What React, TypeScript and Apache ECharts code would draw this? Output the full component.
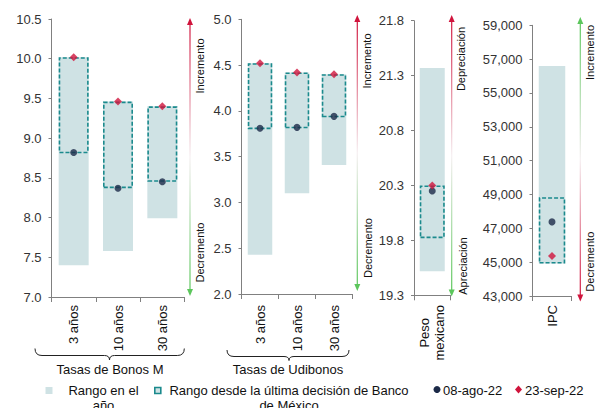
import React, { useEffect, useRef } from "react";
import * as echarts from "echarts";

// ---------- DATA ----------
const bonosCats = ["3 años", "10 años", "30 años"];
const bonosYearMin = [7.4, 7.58, 7.99];
const bonosYearMax = [10.02, 9.46, 9.4];
const bonosBoxMin = [8.81, 8.37, 8.45];
const bonosBoxMax = [10.02, 9.46, 9.4];
const bonosAug = [8.82, 8.37, 8.45];
const bonosSep = [10.02, 9.46, 9.4];

const udiCats = ["3 años", "10 años", "30 años"];
const udiYearMin = [2.43, 3.1, 3.41];
const udiYearMax = [4.52, 4.42, 4.4];
const udiBoxMin = [3.8, 3.81, 3.93];
const udiBoxMax = [4.52, 4.42, 4.4];
const udiAug = [3.81, 3.82, 3.94];
const udiSep = [4.52, 4.42, 4.4];

const pesoCats = ["Peso\nmexicano"];
const pesoYearMin = [19.52];
const pesoYearMax = [21.37];
const pesoBoxMin = [19.82];
const pesoBoxMax = [20.3];
const pesoAug = [20.25];
const pesoSep = [20.3];

const ipcCats = ["IPC"];
const ipcYearMin = [44920];
const ipcYearMax = [56590];
const ipcBoxMin = [44920];
const ipcBoxMax = [48840];
const ipcAug = [47380];
const ipcSep = [45370];

const bonosTicks = [7.0, 10.5];
const udiTicks = [2.0, 5.0];
const pesoTicks = [19.3, 19.8, 20.3, 20.8, 21.3, 21.8];
const ipcTicks = [43000, 45000, 47000, 49000, 51000, 53000, 55000, 57000, 59000];

const groupLabels = ["Tasas de Bonos M", "Tasas de Udibonos"];
const arrowLabels = [
  ["Incremento", "Decremento"],
  ["Incremento", "Decremento"],
  ["Depreciación", "Apreciación"],
  ["Incremento", "Decremento"],
];
const legendLabels = [
  "Rango en el\naño",
  "Rango desde la última decisión de Banco\nde México",
  "08-ago-22",
  "23-sep-22",
];

// ---------- STYLE / LAYOUT ----------
const FONT = '"Liberation Sans", Arial, sans-serif';
const LIGHT = "#cfe2e4";
const TEAL = "#1b8a8d";
const NAVY = "#1c2a48";
const RED = "#d0143c";
const GREEN = "#5cc65c";
const AXIS = "#808080";

const grids = [
  { left: 51.5, top: 19, width: 133, height: 278 },
  { left: 241.5, top: 19.3, width: 111, height: 274.7 },
  { left: 414, top: 20.7, width: 36.5, height: 274.6 },
  { left: 532.5, top: 25.3, width: 39, height: 270.7 },
];
const barWidths = [30, 24.5, 25, 26.5];
const labelMargins = [8, 11, 37.5, 9];

const arrows = [
  { x: 190, top: 18, bottom: 296, up: RED, down: GREEN, l1: [199.5, 66], l2: [200, 252.5] },
  { x: 357.3, top: 15, bottom: 291, up: RED, down: GREEN, l1: [366.7, 61], l2: [368, 248] },
  { x: 451.7, top: 15, bottom: 296.5, up: RED, down: GREEN, l1: [461, 59], l2: [463, 266] },
  { x: 580.3, top: 17, bottom: 301.5, up: GREEN, down: RED, l1: [590, 52.5], l2: [590, 261.7] },
];

function bracePath(x0: number, x1: number, yT: number, yL: number, xc: number, yD: number) {
  return (
    `M${x0},${yT} Q${x0},${yL} ${x0 + 7},${yL} L${xc - 5},${yL} Q${xc},${yL} ${xc},${yD} ` +
    `Q${xc},${yL} ${xc + 5},${yL} L${x1 - 7},${yL} Q${x1},${yL} ${x1},${yT}`
  );
}

let registered = false;
function registerShapes() {
  if (registered) return;
  registered = true;
  echarts.graphic.registerShape(
    "braceA",
    echarts.graphic.extendPath(bracePath(35, 184.3, 348.5, 355.5, 109.5, 360), {})
  );
  echarts.graphic.registerShape(
    "braceB",
    echarts.graphic.extendPath(bracePath(227, 349, 350, 356.5, 289, 360.5), {})
  );
}

export default function App() {
  const ref = useRef<HTMLDivElement>(null);

  useEffect(() => {
    if (!ref.current) return;
    registerShapes();
    const chart = echarts.init(ref.current, undefined, { renderer: "svg" });

    const panels = [
      { cats: bonosCats, yMin: bonosYearMin, yMax: bonosYearMax, bMin: bonosBoxMin, bMax: bonosBoxMax, aug: bonosAug, sep: bonosSep },
      { cats: udiCats, yMin: udiYearMin, yMax: udiYearMax, bMin: udiBoxMin, bMax: udiBoxMax, aug: udiAug, sep: udiSep },
      { cats: pesoCats, yMin: pesoYearMin, yMax: pesoYearMax, bMin: pesoBoxMin, bMax: pesoBoxMax, aug: pesoAug, sep: pesoSep },
      { cats: ipcCats, yMin: ipcYearMin, yMax: ipcYearMax, bMin: ipcBoxMin, bMax: ipcBoxMax, aug: ipcAug, sep: ipcSep },
    ];

    const yAxes: any[] = [
      { min: bonosTicks[0], max: bonosTicks[1], interval: 0.5, fmt: (v: number) => v.toFixed(1) },
      { min: udiTicks[0], max: udiTicks[1], interval: 0.5, fmt: (v: number) => v.toFixed(1) },
      { min: pesoTicks[0], max: pesoTicks[pesoTicks.length - 1], custom: pesoTicks, fmt: (v: number) => v.toFixed(1) },
      { min: ipcTicks[0], max: ipcTicks[ipcTicks.length - 1], custom: ipcTicks, fmt: (v: number) => v.toLocaleString("en-US") },
    ].map((a, i) => {
      const ax: any = {
        type: "value",
        gridIndex: i,
        min: a.min,
        max: a.max,
        splitLine: { show: false },
        axisLine: { show: true, lineStyle: { color: AXIS, width: 1 } },
        axisTick: { show: true, length: 3, lineStyle: { color: AXIS } },
        axisLabel: { fontSize: 13, color: "#333", fontFamily: FONT, margin: 10, formatter: a.fmt },
      };
      if (a.interval) ax.interval = a.interval;
      if (a.custom) {
        ax.axisLabel.customValues = a.custom;
        ax.axisTick.customValues = a.custom;
      }
      return ax;
    });

    const xAxes = panels.map((p, i) => ({
      type: "category",
      gridIndex: i,
      data: p.cats,
      axisLine: { show: true, lineStyle: { color: AXIS, width: 1 } },
      axisTick: { show: true, length: 5, lineStyle: { color: AXIS } },
      axisLabel: {
        rotate: 90,
        fontSize: 13,
        color: "#111",
        fontFamily: FONT,
        margin: labelMargins[i],
        lineHeight: 15,
        ...(i === 2 ? { align: "center" } : {}),
      },
    }));

    const series: any[] = [];
    panels.forEach((p, i) => {
      const common = { xAxisIndex: i, yAxisIndex: i, barWidth: barWidths[i], barGap: "-100%", silent: true };
      series.push({ ...common, type: "bar", stack: "yr" + i, data: p.yMin, itemStyle: { color: "rgba(0,0,0,0)" } });
      series.push({ ...common, type: "bar", stack: "yr" + i, data: p.yMax.map((v, k) => v - p.yMin[k]), itemStyle: { color: LIGHT } });
      series.push({ ...common, type: "bar", stack: "bx" + i, data: p.bMin, itemStyle: { color: "rgba(0,0,0,0)" } });
      series.push({
        ...common,
        type: "bar",
        stack: "bx" + i,
        z: 3,
        data: p.bMax.map((v, k) => v - p.bMin[k]),
        itemStyle: { color: "rgba(0,0,0,0)", borderColor: TEAL, borderWidth: 1.6, borderType: [4, 2] },
      });
      series.push({
        type: "scatter", xAxisIndex: i, yAxisIndex: i, data: p.aug, symbol: "circle", symbolSize: 7,
        itemStyle: { color: NAVY }, z: 5, silent: true,
      });
      series.push({
        type: "scatter", xAxisIndex: i, yAxisIndex: i, data: p.sep, symbol: "diamond", symbolSize: 8,
        itemStyle: { color: RED }, z: 6, silent: true,
      });
    });

    const graphics: any[] = [];
    arrows.forEach((a, i) => {
      graphics.push({
        type: "rect",
        shape: { x: a.x - 0.6, y: a.top + 6, width: 1.2, height: a.bottom - a.top - 12 },
        style: {
          fill: new echarts.graphic.LinearGradient(0, 0, 0, 1, [
            { offset: 0, color: a.up },
            { offset: 0.5, color: "#f6f0f2" },
            { offset: 1, color: a.down },
          ]),
        },
        silent: true,
      });
      graphics.push({
        type: "polygon",
        shape: { points: [[a.x, a.top], [a.x - 3, a.top + 7], [a.x + 3, a.top + 7]] },
        style: { fill: a.up },
      });
      graphics.push({
        type: "polygon",
        shape: { points: [[a.x, a.bottom], [a.x - 3, a.bottom - 7], [a.x + 3, a.bottom - 7]] },
        style: { fill: a.down },
      });
      [a.l1, a.l2].forEach((pos, k) => {
        graphics.push({
          type: "text",
          x: pos[0],
          y: pos[1],
          rotation: Math.PI / 2,
          style: {
            text: arrowLabels[i][k],
            fontSize: 11,
            fontFamily: FONT,
            fill: "#111",
            align: "center",
            verticalAlign: "middle",
          },
        });
      });
    });

    // braces
    graphics.push({ type: "braceA", x: 0, y: 0, style: { stroke: "#222", fill: "none", lineWidth: 1 } });
    graphics.push({ type: "braceB", x: 0, y: 0, style: { stroke: "#222", fill: "none", lineWidth: 1 } });
    graphics.push({
      type: "text", x: 110, y: 369,
      style: { text: groupLabels[0], fontSize: 13, fontFamily: FONT, fill: "#111", align: "center", verticalAlign: "middle" },
    });
    graphics.push({
      type: "text", x: 288, y: 369,
      style: { text: groupLabels[1], fontSize: 13, fontFamily: FONT, fill: "#111", align: "center", verticalAlign: "middle" },
    });

    // legend
    const legTxt = { fontSize: 13, fontFamily: FONT, fill: "#111", verticalAlign: "middle", lineHeight: 15 };
    graphics.push({ type: "rect", shape: { x: 45.5, y: 387, width: 7, height: 7 }, style: { fill: LIGHT } });
    graphics.push({ type: "text", x: 103.5, y: 397.5, style: { ...legTxt, text: legendLabels[0], align: "center" } });
    graphics.push({
      type: "rect", shape: { x: 154.8, y: 387.5, width: 6, height: 6 },
      style: { fill: LIGHT, stroke: TEAL, lineWidth: 1.6 },
    });
    graphics.push({ type: "text", x: 289, y: 397.5, style: { ...legTxt, text: legendLabels[1], align: "center" } });
    graphics.push({ type: "circle", shape: { cx: 437, cy: 389.5, r: 3.5 }, style: { fill: NAVY } });
    graphics.push({ type: "text", x: 443, y: 390, style: { ...legTxt, text: legendLabels[2], align: "left" } });
    graphics.push({
      type: "polygon",
      shape: { points: [[518.5, 385.5], [522, 389.5], [518.5, 393.5], [515, 389.5]] },
      style: { fill: RED },
    });
    graphics.push({ type: "text", x: 525, y: 390, style: { ...legTxt, text: legendLabels[3], align: "left" } });

    chart.setOption({
      animation: false,
      grid: grids,
      xAxis: xAxes,
      yAxis: yAxes,
      series,
      graphic: graphics,
    });

    return () => chart.dispose();
  }, []);

  return (
    <div
      ref={ref}
      style={{ position: "absolute", left: 0, top: 0, width: 600, height: 408, background: "#fff" }}
    />
  );
}
